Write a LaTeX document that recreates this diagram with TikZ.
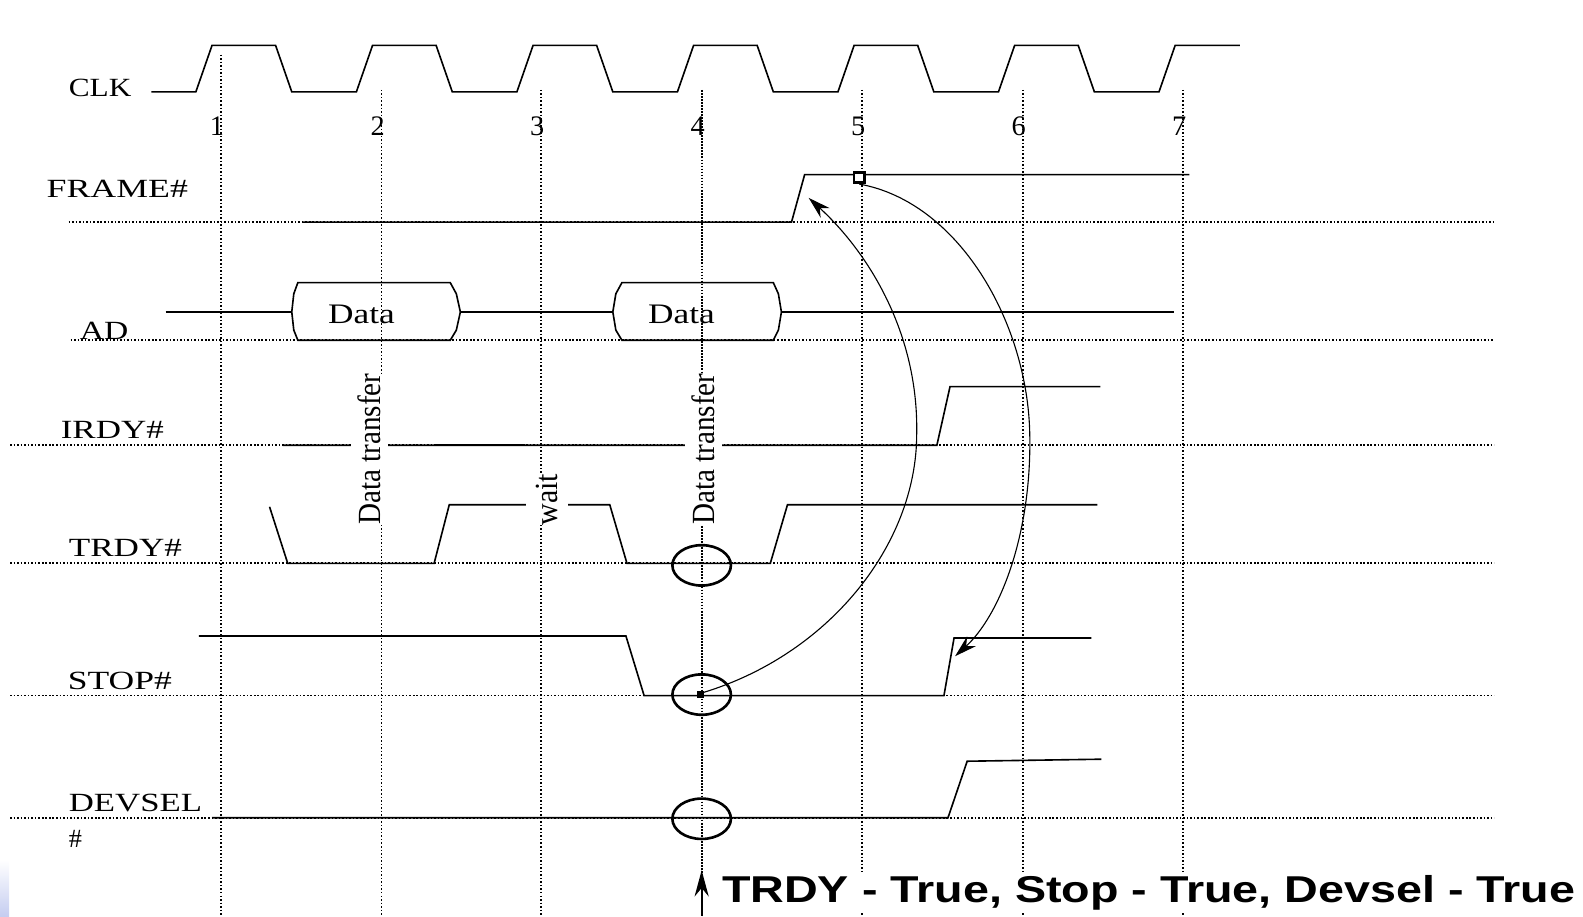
\documentclass[tikz,border=0pt]{standalone}
\usepackage{fontspec}
\usepackage{graphicx}
\setmainfont{Liberation Serif}
\newfontfamily\boldsans{Liberation Sans}
\usetikzlibrary{arrows.meta,shapes.geometric}
\newcommand\wt[2]{\resizebox{#1}{\height}{#2}}
\begin{document}
\begin{tikzpicture}[x=1pt,y=-1pt,
  sig/.style={line width=1.6pt, black, line join=miter},
  gridv/.style={line width=1.7pt, dash pattern=on 1.5pt off 2pt, black},
  gridh/.style={line width=1.7pt, dash pattern=on 1.6pt off 1.9pt, black},
  lbl/.style={font=\fontsize{26}{28}\selectfont, inner sep=0pt, anchor=base west},
  num/.style={font=\fontsize{28}{30}\selectfont, inner sep=0pt, anchor=base},
  rot/.style={font=\fontsize{32}{34}\selectfont, inner xsep=0pt, inner ysep=7pt, fill=white, rotate=90, anchor=base},
  ring/.style={ellipse, draw, line width=2.6pt, minimum width=58pt, minimum height=40pt, inner sep=0pt},
  arr/.style={line width=1.1pt, -{Stealth[length=22pt,width=13pt]}},
]
\useasboundingbox (0,0) rectangle (1568,908);
\shade[top color=white, bottom color={rgb,255:red,196;green,204;blue,240}] (0,852) rectangle (9,908);

% vertical clock grid lines
\draw[gridv] (219,54) -- (219,908);
\foreach \x in {378,536,854,1013,1172} \draw[gridv] (\x,89) -- (\x,908);
\draw[gridv, line width=2.1pt, dash pattern=on 1.7pt off 1.3pt] (695,89) -- (695,908);

% horizontal signal grid lines
\draw[gridh] (68,220) -- (1480,220);
\draw[gridh] (70,337) -- (1480,337);
\foreach \y in {441,558,689,810} \draw[gridh] (10,\y) -- (1480,\y);

% labels
\node[lbl] (lclk) at (68,96) {\wt{62pt}{CLK}};
\node[lbl] (lframe) at (46,196) {\wt{140pt}{FRAME\#}};
\node[lbl] (lad) at (79,336) {\wt{48pt}{AD}};
\node[lbl] (lirdy) at (60,434) {\wt{102pt}{IRDY\#}};
\node[lbl] (ltrdy) at (68,551) {\wt{112pt}{TRDY\#}};
\node[lbl] (lstop) at (67,683) {\wt{103pt}{STOP\#}};
\node[lbl] (ldevsel) at (68,804) {\wt{132pt}{DEVSEL}};
\node[lbl] (lhash) at (68,839) {\#};

% clock numbers
\foreach \x/\n in {219/1,378/2,536/3,695/4,854/5,1013/6,1172/7}
  \node[num] (n\n) at (\x-4,134) {\n};

% CLK
\draw[sig] (150,91)
  foreach \k in {0,...,5} { -- ({194+159*\k},91) -- ({210+159*\k},45) -- ({273+159*\k},45) -- ({289+159*\k},91) }
  -- (1148,91) -- (1164,45) -- (1228,45);

% FRAME#
\draw[sig] (300,220) -- (784,220) -- (797,173) -- (1178,173);
\node[draw, line width=2.6pt, minimum size=10pt, inner sep=0pt, fill=white] (fsq) at (851,176) {};

% AD
\draw[sig] (164,309) -- (289,309);
\draw[sig] (456,309) -- (607,309);
\draw[sig] (774,309) -- (1163,309);
\draw[sig] (295,280) -- (446,280) -- (452,291) -- (456,309) -- (452,327) -- (446,337) -- (295,337) -- (291,327) -- (289,309) -- (291,291) -- cycle;
\draw[sig] (616,280) -- (766,280) -- (771,291) -- (774,309) -- (771,327) -- (766,337) -- (616,337) -- (610,327) -- (607,309) -- (610,291) -- cycle;
\node[num] (d1) at (358,320) {\wt{66pt}{Data}};
\node[num] (d2) at (675,320) {\wt{66pt}{Data}};

% IRDY#
\draw[sig] (280,441) -- (928,441) -- (941,383) -- (1090,383);
\draw[line width=2.4pt] (430,441) -- (520,441);

% TRDY#
\draw[sig] (267,502) -- (285,558) -- (430,558) -- (445,500) -- (604,500) -- (621,558) -- (763,558) -- (780,500) -- (1087,500);

% STOP#
\draw[sig] (197,630) -- (620,630) -- (638,689) -- (935,689) -- (945,632) -- (1081,632);

% DEVSEL#
\draw[sig] (210,810) -- (939,810) -- (958,754) -- (1091,752);

% rotated annotations
\node[rot] (t1) at (377,445) {\wt{150pt}{Data transfer}};
\node[rot] (t2) at (708,445) {\wt{150pt}{Data transfer}};
\node[rot, inner ysep=10pt] (tw) at (552,495) {\wt{51pt}{wait}};

% rings
\node[ring] (ctrdy) at (695,560) {};
\node[ring] (cstop) at (695,688) {};
\node[ring] (cdev) at (695,811) {};

% curved arrows
\coordinate (a1s) at (693,687);
\coordinate (a1m) at (908,430);
\coordinate (a1e) at (801,196);
\fill (690,684) rectangle (697,691);
\draw[arr] (a1s) .. controls (820,650) and (908,540) .. (a1m) .. controls (910,330) and (860,250) .. (a1e);
\coordinate (a2m) at (1020,430);
\coordinate (a2e) at (946,650);
\draw[arr] (fsq.south) .. controls (950,200) and (1018,320) .. (a2m) .. controls (1022,530) and (990,610) .. (a2e);

% bottom note
\node[anchor=base west, inner sep=2pt, fill=white, font=\boldsans\bfseries\fontsize{37}{40}\selectfont] (note) at (713,894) {\wt{845pt}{TRDY - True, Stop - True, Devsel - True}};
\coordinate (bstart) at (695,907);
\coordinate (btip) at (695,862);
\draw[line width=1.8pt, -{Stealth[length=26pt,width=14pt]}] (bstart) -- (btip);
\end{tikzpicture}
\end{document}
